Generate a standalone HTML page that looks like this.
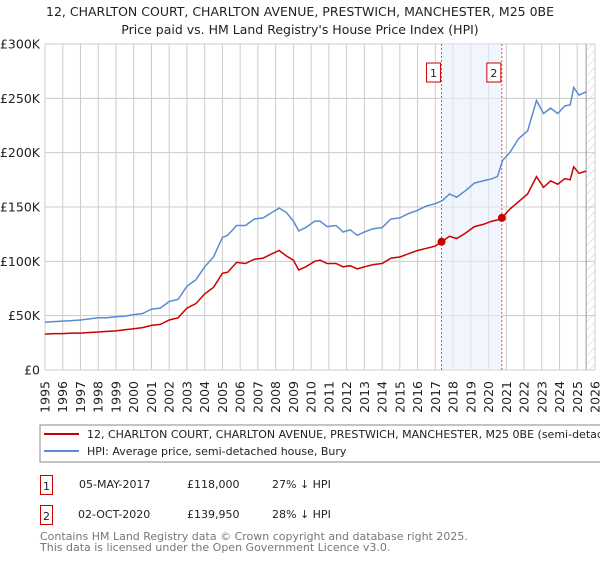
<!DOCTYPE html>
<html><head><meta charset="utf-8"><style>
body{margin:0;background:#fff;width:600px;height:560px;overflow:hidden;font-family:"DejaVu Sans","Liberation Sans",sans-serif}
svg text{font-family:"DejaVu Sans","Liberation Sans",sans-serif}
</style></head><body>
<svg id="chart" width="600" height="560">
<defs><pattern id="hatch" width="6" height="6" patternUnits="userSpaceOnUse" patternTransform="rotate(45)"><line x1="0" y1="0" x2="0" y2="6" stroke="#ccc" stroke-width="1"/></pattern></defs>
<text x="300" y="16" text-anchor="middle" font-size="12.5" fill="#222">12, CHARLTON COURT, CHARLTON AVENUE, PRESTWICH, MANCHESTER, M25 0BE</text>
<text x="300" y="34" text-anchor="middle" font-size="12.5" fill="#222">Price paid vs. HM Land Registry's House Price Index (HPI)</text>
<g id="grid"></g><g id="bands"></g><g id="lines"></g><g id="axes"></g>
<rect x="40" y="425" width="570" height="37" fill="#fff" stroke="#888"/>
<line x1="44" y1="434" x2="79" y2="434" stroke="#cc0000" stroke-width="2"/>
<text x="87" y="438" font-size="11" fill="#222">12, CHARLTON COURT, CHARLTON AVENUE, PRESTWICH, MANCHESTER, M25 0BE (semi-detached house)</text>
<line x1="44" y1="451" x2="79" y2="451" stroke="#5b8bd0" stroke-width="2"/>
<text x="87" y="455" font-size="11" fill="#222">HPI: Average price, semi-detached house, Bury</text>
<rect x="40.5" y="475.5" width="12" height="19" fill="#fff" stroke="#cc0000"/>
<text x="46.5" y="490" text-anchor="middle" font-size="11" fill="#222">1</text>
<text x="79" y="488" font-size="11" fill="#222">05-MAY-2017</text>
<text x="187" y="488" font-size="11" fill="#222">£118,000</text>
<text x="272" y="488" font-size="11" fill="#222">27% ↓ HPI</text>
<rect x="40.5" y="505.5" width="12" height="19" fill="#fff" stroke="#cc0000"/>
<text x="46.5" y="520" text-anchor="middle" font-size="11" fill="#222">2</text>
<text x="78" y="518" font-size="11" fill="#222">02-OCT-2020</text>
<text x="187" y="518" font-size="11" fill="#222">£139,950</text>
<text x="272" y="518" font-size="11" fill="#222">28% ↓ HPI</text>
<text x="40" y="540" font-size="11" fill="#777">Contains HM Land Registry data © Crown copyright and database right 2025.</text>
<text x="40" y="551" font-size="11" fill="#777">This data is licensed under the Open Government Licence v3.0.</text>
</svg>
<script>
const yearTicks=[1995,1996,1997,1998,1999,2000,2001,2002,2003,2004,2005,2006,2007,2008,2009,2010,2011,2012,2013,2014,2015,2016,2017,2018,2019,2020,2021,2022,2023,2024,2025,2026];
const valueTicks=[0,50000,100000,150000,200000,250000,300000];
const valueTickLabels=["£0","£50K","£100K","£150K","£200K","£250K","£300K"];
const hpiYears=[1995,1995.5,1996,1996.5,1997,1997.5,1998,1998.5,1999,1999.5,2000,2000.5,2001,2001.5,2002,2002.5,2003,2003.5,2004,2004.5,2005,2005.3,2005.8,2006.3,2006.8,2007.3,2007.8,2008.2,2008.6,2009,2009.3,2009.7,2010.2,2010.5,2010.9,2011.4,2011.8,2012.2,2012.6,2013,2013.5,2014,2014.5,2015,2015.5,2016,2016.5,2017,2017.4,2017.8,2018.2,2018.7,2019.2,2019.7,2020.2,2020.5,2020.8,2021.2,2021.7,2022.2,2022.7,2023.1,2023.5,2023.9,2024.3,2024.6,2024.8,2025.1,2025.5];
const hpiValues=[44000,44500,45000,45500,46000,47000,48000,48000,49000,49500,51000,52000,56000,57000,63000,65000,77000,83000,95000,104000,122000,124000,133000,133000,139000,140000,145000,149000,145000,137000,128000,131000,137000,137000,132000,133000,127000,129000,124000,127000,130000,131000,139000,140000,144000,147000,151000,153000,156000,162000,159000,165000,172000,174000,176000,178000,193000,200000,213000,220000,248000,236000,241000,236000,243000,244000,260000,253000,256000];
const saleYears=[1995,1995.5,1996,1996.5,1997,1997.5,1998,1998.5,1999,1999.5,2000,2000.5,2001,2001.5,2002,2002.5,2003,2003.5,2004,2004.5,2005,2005.3,2005.8,2006.3,2006.8,2007.3,2007.8,2008.2,2008.6,2009,2009.3,2009.7,2010.2,2010.5,2010.9,2011.4,2011.8,2012.2,2012.6,2013,2013.5,2014,2014.5,2015,2015.5,2016,2016.5,2017,2017.35,2017.8,2018.2,2018.7,2019.2,2019.7,2020.2,2020.5,2020.75,2021.2,2021.7,2022.2,2022.7,2023.1,2023.5,2023.9,2024.3,2024.6,2024.8,2025.1,2025.5];
const saleValues=[33000,33500,33500,34000,34000,34500,35000,35500,36000,37000,38000,39000,41000,42000,46000,48000,57000,61000,70000,76000,89000,90000,99000,98000,102000,103000,107000,110000,105000,101000,92000,95000,100000,101000,98000,98000,95000,96000,93000,95000,97000,98000,103000,104000,107000,110000,112000,114000,118000,123000,121000,126000,132000,134000,137000,138000,140000,148000,155000,162000,178000,168000,174000,171000,176000,175000,187000,181000,183000];
const sales=[{n:"1",year:2017.35,price:118000},{n:"2",year:2020.75,price:139950}];
const X0=45,X1=595,Y0=370,Y1=44;
const xs=y=>X0+(y-1995)/(2026-1995)*(X1-X0);
const ys=v=>Y0-v/300000*(Y0-Y1);
const NS="http://www.w3.org/2000/svg";
function mk(p,t,a){const e=document.createElementNS(NS,t);for(const k in a)e.setAttribute(k,a[k]);p.appendChild(e);return e;}
const grid=document.getElementById('grid'),bands=document.getElementById('bands'),lines=document.getElementById('lines'),axes=document.getElementById('axes');
yearTicks.forEach(y=>{const l=mk(grid,'line',{x1:xs(y),x2:xs(y),y1:Y1,y2:Y0,stroke:'#ccc'});


const t=mk(axes,'text',{x:0,y:0,'font-size':'12.5',fill:'#222','text-anchor':'end',transform:`translate(${xs(y)+4.5},381) rotate(-90)`});t.textContent=y;

});
valueTicks.forEach((v,i)=>{const l=mk(grid,'line',{x1:X0,x2:X1,y1:ys(v),y2:ys(v),stroke:'#ccc'});


const t=mk(axes,'text',{x:40,y:ys(v)+4.5,'font-size':'12.5',fill:'#222','text-anchor':'end'});t.textContent=valueTickLabels[i];

});
const band=mk(bands,'rect',{x:xs(sales[0].year),y:Y1,width:xs(sales[1].year)-xs(sales[0].year),height:Y0-Y1,fill:'#e8effc',opacity:0.6});


const hx=xs(2025.5);
const hatch=mk(bands,'rect',{x:hx,y:Y1,width:X1-hx,height:Y0-Y1,fill:'url(#hatch)'});


mk(bands,'line',{x1:hx,x2:hx,y1:Y1,y2:Y0,stroke:'#999'});
sales.forEach(s=>{const l=mk(bands,'line',{x1:xs(s.year),x2:xs(s.year),y1:Y1,y2:Y0,stroke:'#e05050','stroke-dasharray':'2,2'});


const r=mk(bands,'rect',{x:xs(s.year)-15,y:63,width:14,height:19,fill:'#fff',stroke:'#cc0000'});


const t=mk(bands,'text',{x:xs(s.year)-8,y:77,'text-anchor':'middle','font-size':'11',fill:'#222'});t.textContent=s.n;});
const path=(xsA,vs)=>xsA.map((y,i)=>(i?'L':'M')+xs(y).toFixed(1)+','+ys(vs[i]).toFixed(1)).join('');
const h=mk(lines,'path',{d:path(hpiYears,hpiValues),fill:'none',stroke:'#5b8bd0','stroke-width':1.5});


const p=mk(lines,'path',{d:path(saleYears,saleValues),fill:'none',stroke:'#cc0000','stroke-width':1.5});


sales.forEach(s=>{const c=mk(lines,'circle',{cx:xs(s.year),cy:ys(s.price),r:4,fill:'#cc0000'});

});
</script>
</body></html>
